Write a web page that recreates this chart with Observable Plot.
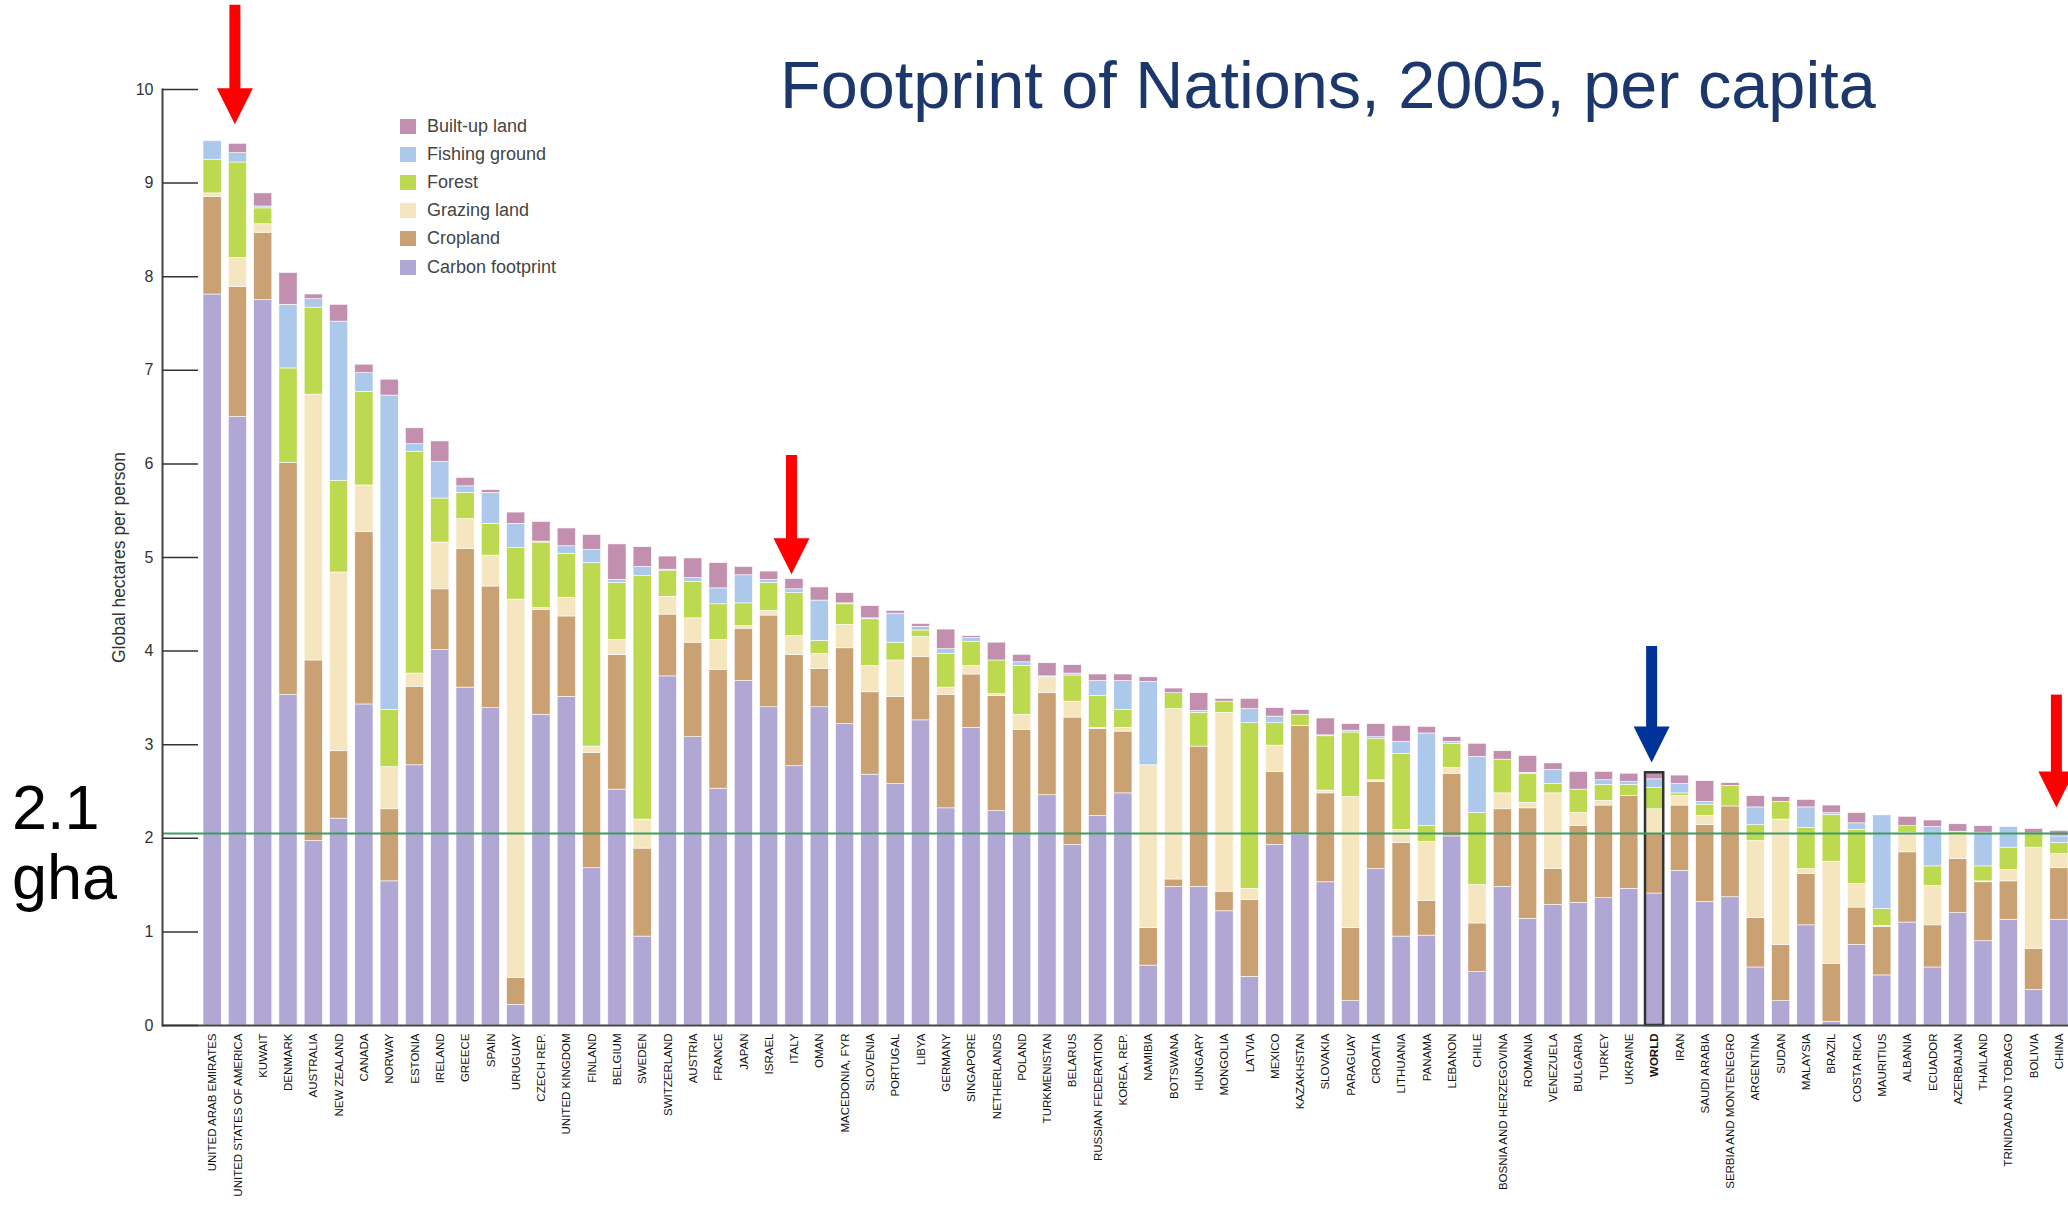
<!DOCTYPE html>
<html>
<head>
<meta charset="utf-8">
<script src="https://cdn.jsdelivr.net/npm/d3@7"></script>
<script src="https://cdn.jsdelivr.net/npm/@observablehq/plot@0.6"></script>
<style>
  html, body { margin: 0; padding: 0; background: #fff; overflow: hidden; }
  #wrap { position: relative; width: 2068px; height: 1205px; font-family: "Liberation Sans", Arial, Helvetica, sans-serif; }
  #chart { position: absolute; left: 0; top: 0; }
  #title { position: absolute; left: 780px; top: 52px; font-size: 66.6px; line-height: 66px; color: #1c376c; white-space: nowrap; }
  #gha { position: absolute; left: 12px; top: 772px; font-size: 63px; line-height: 70px; color: #000; }
  #legend { position: absolute; left: 400px; top: 112px; font-size: 18px; color: #444; }
  #legend .row { display: flex; align-items: center; height: 28.2px; white-space: nowrap; }
  #legend .sw { width: 16px; height: 15px; margin-right: 11px; flex: none; }
</style>
</head>
<body>
<div id="wrap">
  <div id="chart"></div>
  <div id="title">Footprint of Nations, 2005, per capita</div>
  <div id="gha">2.1<br>gha</div>
  <div id="legend"></div>
</div>
<script>
// ---- data (global hectares per person, 2005) ----
const countries = [
  "UNITED ARAB EMIRATES","UNITED STATES OF AMERICA","KUWAIT","DENMARK","AUSTRALIA","NEW ZEALAND","CANADA","NORWAY",
  "ESTONIA","IRELAND","GREECE","SPAIN","URUGUAY","CZECH REP.","UNITED KINGDOM","FINLAND","BELGIUM","SWEDEN",
  "SWITZERLAND","AUSTRIA","FRANCE","JAPAN","ISRAEL","ITALY","OMAN","MACEDONIA, FYR","SLOVENIA","PORTUGAL","LIBYA",
  "GERMANY","SINGAPORE","NETHERLANDS","POLAND","TURKMENISTAN","BELARUS","RUSSIAN FEDERATION","KOREA, REP.","NAMIBIA",
  "BOTSWANA","HUNGARY","MONGOLIA","LATVIA","MEXICO","KAZAKHSTAN","SLOVAKIA","PARAGUAY","CROATIA","LITHUANIA","PANAMA",
  "LEBANON","CHILE","BOSNIA AND HERZEGOVINA","ROMANIA","VENEZUELA","BULGARIA","TURKEY","UKRAINE","WORLD","IRAN",
  "SAUDI ARABIA","SERBIA AND MONTENEGRO","ARGENTINA","SUDAN","MALAYSIA","BRAZIL","COSTA RICA","MAURITIUS","ALBANIA",
  "ECUADOR","AZERBAIJAN","THAILAND","TRINIDAD AND TOBAGO","BOLIVIA","CHINA"
];
const carbon = [7.81,6.50,7.75,3.53,1.97,2.21,3.43,1.54,2.78,4.01,3.61,3.39,0.22,3.32,3.51,1.68,2.52,0.95,3.73,3.08,2.53,3.68,3.40,2.77,3.40,3.22,2.68,2.58,3.26,2.32,3.18,2.29,2.05,2.46,1.93,2.24,2.48,0.64,1.48,1.48,1.22,0.52,1.93,2.04,1.53,0.26,1.67,0.95,0.96,2.02,0.57,1.48,1.14,1.29,1.31,1.36,1.46,1.41,1.65,1.32,1.37,0.62,0.26,1.07,0.04,0.86,0.535,1.10,0.62,1.20,0.90,1.13,0.38,1.13];
const cropland = [1.04,1.39,0.72,2.48,1.93,0.72,1.84,0.77,0.84,0.65,1.48,1.30,0.29,1.12,0.86,1.23,1.44,0.94,0.66,1.01,1.27,0.56,0.98,1.19,0.41,0.81,0.88,0.93,0.68,1.21,0.57,1.23,1.11,1.09,1.36,0.93,0.66,0.40,0.08,1.50,0.21,0.82,0.78,1.16,0.95,0.78,0.93,1.00,0.37,0.67,0.52,0.83,1.18,0.38,0.82,0.99,0.99,0.64,0.70,0.82,0.97,0.53,0.60,0.55,0.62,0.40,0.52,0.75,0.45,0.58,0.63,0.41,0.44,0.55];
const grazing = [0.04,0.31,0.09,0.00,2.84,1.91,0.50,0.45,0.14,0.50,0.32,0.33,4.04,0.02,0.20,0.07,0.16,0.31,0.19,0.26,0.32,0.03,0.05,0.20,0.16,0.25,0.28,0.39,0.21,0.08,0.09,0.02,0.16,0.17,0.17,0.01,0.04,1.74,1.82,0.00,1.91,0.12,0.28,0.00,0.03,1.40,0.02,0.14,0.63,0.06,0.41,0.17,0.06,0.81,0.14,0.05,0.00,0.26,0.10,0.10,0.00,0.82,1.34,0.05,1.09,0.25,0.01,0.21,0.42,0.27,0.01,0.12,1.08,0.15];
const forest = [0.36,1.02,0.17,1.01,0.93,0.98,1.00,0.61,2.37,0.47,0.28,0.34,0.55,0.70,0.47,1.96,0.61,2.60,0.28,0.39,0.38,0.24,0.30,0.46,0.14,0.22,0.50,0.19,0.07,0.36,0.26,0.36,0.52,0.00,0.28,0.34,0.19,0.00,0.17,0.36,0.12,1.77,0.24,0.12,0.58,0.69,0.44,0.81,0.17,0.26,0.77,0.36,0.31,0.10,0.25,0.17,0.12,0.23,0.03,0.12,0.22,0.17,0.19,0.44,0.50,0.58,0.18,0.07,0.21,0.02,0.16,0.24,0.15,0.12];
const fishing = [0.20,0.10,0.02,0.68,0.09,1.70,0.20,3.36,0.08,0.39,0.07,0.33,0.26,0.01,0.08,0.14,0.03,0.10,0.01,0.04,0.17,0.30,0.03,0.04,0.43,0.01,0.01,0.31,0.04,0.05,0.04,0.00,0.04,0.01,0.02,0.16,0.31,0.89,0.00,0.02,0.00,0.15,0.07,0.00,0.01,0.02,0.02,0.13,0.99,0.02,0.60,0.00,0.01,0.15,0.00,0.05,0.03,0.09,0.10,0.03,0.00,0.19,0.00,0.22,0.02,0.07,1.00,0.00,0.42,0.00,0.36,0.22,0.00,0.07];
const builtUp = [0.00,0.10,0.14,0.34,0.05,0.18,0.09,0.17,0.17,0.22,0.09,0.03,0.12,0.21,0.19,0.16,0.38,0.21,0.14,0.21,0.27,0.09,0.09,0.11,0.14,0.11,0.13,0.03,0.03,0.21,0.02,0.19,0.08,0.14,0.09,0.07,0.07,0.05,0.05,0.19,0.03,0.11,0.09,0.05,0.18,0.07,0.14,0.17,0.07,0.05,0.14,0.09,0.18,0.07,0.19,0.09,0.09,0.07,0.09,0.22,0.03,0.12,0.05,0.08,0.08,0.11,0.00,0.10,0.07,0.08,0.07,0.00,0.05,0.06];

const components = ["Carbon footprint","Cropland","Grazing land","Forest","Fishing ground","Built-up land"];
const componentColors = ["#b0a7d4","#c9a172","#f5e6c0","#bcd94f","#acc9eb","#c28fae"];
const yTicks = [0,1,2,3,4,5,6,7,8,9,10];
const biocapacity = 2.05;   // world biocapacity per person (2.1 gha)
const highlighted = "WORLD";

// annotation arrows: country, shaft top value, tip value
const redArrowCountries = ["UNITED STATES OF AMERICA","ITALY","CHINA"];
const redArrowTop = [10.9, 6.09, 3.53];
const redArrowTip = [9.63, 4.82, 2.33];
const blueArrowCountries = ["WORLD"];
const blueArrowTop = [4.05];
const blueArrowTip = [2.81];

// ---- build tables ----
const series = [carbon, cropland, grazing, forest, fishing, builtUp];
const rows = [];
countries.forEach((c, i) => series.forEach((arr, k) => rows.push({country: c, component: components[k], value: arr[i]})));
const totals = countries.map((c, i) => ({country: c, total: series.reduce((s, arr) => s + arr[i], 0)}));
const redArrows = redArrowCountries.map((c, i) => ({country: c, top: redArrowTop[i], tip: redArrowTip[i]}));
const blueArrows = blueArrowCountries.map((c, i) => ({country: c, top: blueArrowTop[i], tip: blueArrowTip[i]}));

const arrowHead = {
  draw(context) {
    context.moveTo(-18, -36);
    context.lineTo(18, -36);
    context.lineTo(0, 0);
    context.closePath();
  }
};

function arrowMarks(data, color) {
  return [
    Plot.ruleX(data, {x: "country", y1: "top", y2: "tip", stroke: color, strokeWidth: 11, insetBottom: 30, dx: -3}),
    Plot.dot(data, {x: "country", y: "tip", symbol: arrowHead, fill: color, stroke: "none", r: 18, dx: -3})
  ];
}

const font = '"Liberation Sans", Arial, Helvetica, sans-serif';

const chart = Plot.plot({
  width: 2068,
  height: 1205,
  marginTop: 89,
  marginBottom: 180,
  marginLeft: 162,
  marginRight: 0,
  style: {fontFamily: font, background: "white", overflow: "visible"},
  x: {domain: countries, range: [203, 2068], paddingInner: 0.28, paddingOuter: 0, round: false},
  y: {domain: [0, 10]},
  color: {domain: components, range: componentColors},
  marks: [
    Plot.barY(rows, {x: "country", y: "value", fill: "component", stroke: "white", strokeWidth: 0.6}),
    Plot.barY(totals.filter(d => d.country === highlighted), {x: "country", y: "total", fill: "none", stroke: "#333", strokeWidth: 2.5}),
    Plot.ruleY([biocapacity], {stroke: "#3f9b62", strokeWidth: 2}),
    Plot.ruleY([0], {stroke: "#444", strokeWidth: 2}),
    Plot.frame({anchor: "left", stroke: "#444", strokeWidth: 2}),
    Plot.axisY({
      ticks: yTicks, tickSize: -36, tickPadding: 45, tickFormat: d => String(d),
      fontSize: 16, color: "#333", strokeWidth: 1.5, label: null
    }),
    Plot.axisY({
      ticks: [], tickSize: 0, fontSize: 17.5, color: "#333",
      label: "Global hectares per person", labelAnchor: "center", labelOffset: 50, labelArrow: "none"
    }),
    Plot.axisX({
      ticks: countries.filter(c => c !== highlighted), tickRotate: -90, tickSize: 0, tickPadding: 8,
      fontSize: 11.5, color: "#111", label: null
    }),
    Plot.axisX({
      ticks: [highlighted], tickRotate: -90, tickSize: 0, tickPadding: 8,
      fontSize: 11.5, fontWeight: "bold", color: "#111", label: null
    }),
    ...arrowMarks(redArrows, "#ff0000"),
    ...arrowMarks(blueArrows, "#003399")
  ]
});
document.getElementById("chart").appendChild(chart);

// legend (top to bottom is the reverse of the stacking order)
const legend = document.getElementById("legend");
components.slice().reverse().forEach(name => {
  const row = document.createElement("div");
  row.className = "row";
  const sw = document.createElement("div");
  sw.className = "sw";
  sw.style.background = componentColors[components.indexOf(name)];
  const label = document.createElement("span");
  label.textContent = name;
  row.appendChild(sw);
  row.appendChild(label);
  legend.appendChild(row);
});
</script>
</body>
</html>
